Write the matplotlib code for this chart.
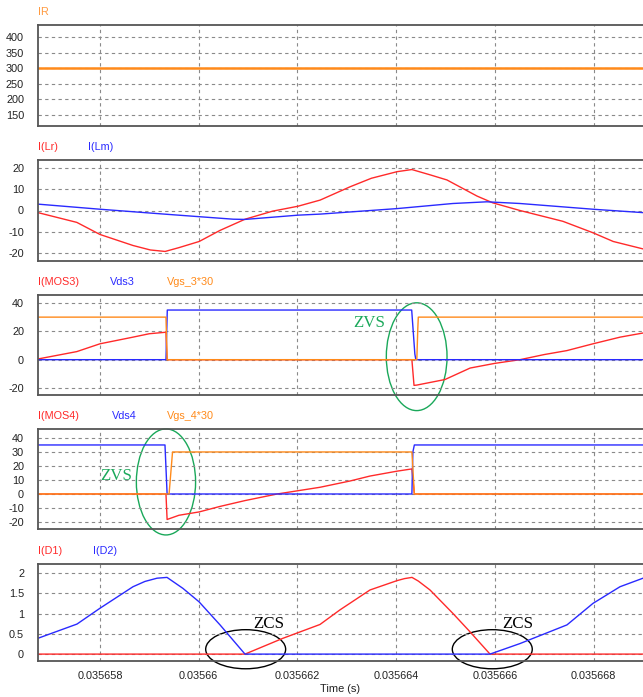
import matplotlib.pyplot as plt
from matplotlib.patches import Ellipse

# simulation time in microseconds
T_START, T_END = 35656.744, 35669.003
TICKS = [35658, 35660, 35662, 35664, 35666, 35668]
TICK_LABELS = ["0.035658", "0.03566", "0.035662", "0.035664", "0.035666", "0.035668"]

# IR
ir_t = [T_START, T_END]
ir = [300, 300]

# resonant and magnetizing inductor currents
lr_t = [T_START, 35657.53, 35658.00, 35658.67, 35659.02, 35659.32, 35659.60, 35660.01,
        35660.43, 35660.94, 35661.50, 35662.01, 35662.46, 35663.07, 35663.50, 35664.02,
        35664.32, 35664.69, 35665.03, 35665.64, 35665.96, 35666.51, 35667.38, 35667.99,
        35668.40, T_END]
i_lr = [-1.0, -5.6, -11.3, -16.5, -18.6, -19.3, -17.5, -14.6,
        -9.4, -4.1, -0.3, 2.0, 4.9, 11.2, 15.2, 18.3,
        19.3, 16.8, 14.4, 6.8, 3.6, 0.0, -5.1, -10.5,
        -14.6, -18.1]
lm_t = [T_START, 35658.00, 35659.36, 35660.70, 35660.94, 35662.01, 35662.46, 35664.02,
        35665.15, 35665.84, 35666.51, 35667.99, T_END]
i_lm = [3.0, 0.6, -1.8, -4.1, -4.2, -2.2, -1.7, 0.9,
        3.3, 4.1, 3.3, 0.6, -1.0]

# MOS3
mos3_t = [T_START, 35657.53, 35658.00, 35658.67, 35659.00, 35659.32, 35659.337, 35659.36,
          35664.32, 35664.363, 35664.42, 35664.99, 35665.50, 35666.00, 35666.51, 35667.00,
          35667.46, 35667.99, 35668.54, T_END]
i_mos3 = [0.5, 5.7, 11.2, 15.9, 18.3, 19.3, 19.3, 0.0,
          0.0, -18.1, -17.9, -14.0, -5.9, -2.6, 0.0, 3.6,
          6.4, 11.2, 15.9, 18.8]
vds3_t = [T_START, 35659.337, 35659.364, 35664.316, 35664.38, 35664.40, T_END]
vds3 = [0, 0, 35, 35, 4, 0, 0]
vgs3_t = [T_START, 35659.337, 35659.36, 35664.42, 35664.44, 35664.45, T_END]
vgs3 = [30, 30, 0, 0, 22, 30, 30]

# MOS4
mos4_t = [T_START, 35659.337, 35659.36, 35659.60, 35660.01, 35660.43, 35660.94, 35661.59,
          35662.46, 35663.07, 35663.47, 35664.02, 35664.32, 35664.37, T_END]
i_mos4 = [0.0, 0.0, -18.2, -15.2, -12.8, -8.9, -4.7, 0.0,
          4.8, 9.3, 12.8, 16.3, 17.9, 0.0, 0.0]
vds4_t = [T_START, 35659.317, 35659.36, 35664.32, 35664.34, 35664.37, T_END]
vds4 = [35, 35, 0, 0, 30, 35, 35]
vgs4_t = [T_START, 35659.40, 35659.47, 35664.32, 35664.37, T_END]
vgs4 = [0, 0, 30, 30, 0, 0]

# output diodes
d1_t = [T_START, 35660.938, 35661.708, 35662.458, 35662.863, 35663.471, 35664.018, 35664.170,
        35664.322, 35664.450, 35664.687, 35665.153, 35665.497, 35665.903, T_END]
i_d1 = [0, 0, 0.39, 0.73, 1.09, 1.58, 1.81, 1.86,
        1.89, 1.80, 1.58, 1.00, 0.55, 0, 0]
d2_t = [T_START, 35657.534, 35658.000, 35658.669, 35658.910, 35659.155, 35659.358, 35659.680,
        35660.006, 35660.432, 35660.938, 35665.903, 35666.511, 35667.463, 35667.990, 35668.537,
        T_END]
i_d2 = [0.39, 0.74, 1.13, 1.66, 1.79, 1.87, 1.89, 1.62,
        1.29, 0.72, 0, 0, 0.26, 0.72, 1.25, 1.66,
        1.87]

RED = "#ff2a2a"
BLUE = "#2a2aff"
ORANGE = "#ff8a1a"
GREEN = "#1aa85a"

plt.rcParams["font.family"] = ["Liberation Sans", "DejaVu Sans"]
plt.rcParams["axes.unicode_minus"] = False

fig = plt.figure(figsize=(6.43, 6.97), dpi=100)
left, width = 38 / 643, 1 - 38 / 643
rows = [(25, 126), (160, 261), (295, 395), (429, 529), (564, 661)]
axes = []
for top, bottom in rows:
    ax = fig.add_axes([left, 1 - bottom / 697, width, (bottom - top) / 697])
    axes.append(ax)

ylims = [(115, 438), (-23.8, 23.8), (-24.9, 45.6), (-25, 46.4), (-0.17, 2.22)]
yticks = [[150, 200, 250, 300, 350, 400], [-20, -10, 0, 10, 20], [-20, 0, 20, 40],
          [-20, -10, 0, 10, 20, 30, 40], [0, 0.5, 1, 1.5, 2]]
ytick_labels = [None, None, None, None, ["0", "0.5", "1", "1.5", "2"]]
for ax, yl, yt, ytl in zip(axes, ylims, yticks, ytick_labels):
    ax.set_xlim(T_START, T_END)
    ax.set_ylim(*yl)
    ax.set_yticks(yt)
    if ytl:
        ax.set_yticklabels(ytl)
    ax.set_xticks(TICKS)
    ax.grid(True, color="#8a8a8a", linestyle=(0, (3, 3)), linewidth=0.8)
    ax.tick_params(length=0, labelsize=7.8, labelcolor="#222222", pad=10)
    ax.tick_params(axis="x", pad=7)
    for side in ("left", "top", "bottom"):
        ax.spines[side].set_color("#555555")
        ax.spines[side].set_linewidth(1.3)
    ax.spines["right"].set_visible(False)
    if ax is not axes[-1]:
        ax.set_xticklabels([])


def legend(ax, items):
    for text, color, dx in items:
        ax.annotate(text, xy=(0, 1), xycoords="axes fraction", xytext=(dx, 13),
                    textcoords="offset pixels", va="center", ha="left",
                    fontsize=7.8, color=color)


ax1, ax2, ax3, ax4, ax5 = axes

ax1.plot(ir_t, ir, color=ORANGE, lw=1.8)
legend(ax1, [("IR", "#ff9a40", 0)])

ax2.plot(lr_t, i_lr, color=RED, lw=1.0)
ax2.plot(lm_t, i_lm, color=BLUE, lw=1.0)
legend(ax2, [("I(Lr)", RED, 0), ("I(Lm)", BLUE, 50)])

ax3.plot(mos3_t, i_mos3, color=RED, lw=1.0)
ax3.plot(vds3_t, vds3, color=BLUE, lw=1.0)
ax3.plot(vgs3_t, vgs3, color=ORANGE, lw=1.0)
legend(ax3, [("I(MOS3)", RED, 0), ("Vds3", BLUE, 72), ("Vgs_3*30", ORANGE, 129)])

ax4.plot(mos4_t, i_mos4, color=RED, lw=1.0)
ax4.plot(vds4_t, vds4, color=BLUE, lw=1.0)
ax4.plot(vgs4_t, vgs4, color=ORANGE, lw=1.0)
legend(ax4, [("I(MOS4)", RED, 0), ("Vds4", BLUE, 74), ("Vgs_4*30", ORANGE, 129)])

ax5.plot(d1_t, i_d1, color=RED, lw=1.0)
ax5.plot(d2_t, i_d2, color=BLUE, lw=1.0)
legend(ax5, [("I(D1)", RED, 0), ("I(D2)", BLUE, 55)])
ax5.set_xticklabels(TICK_LABELS)
ax5.set_xlabel("Time (s)", fontsize=7.9, color="#222222", labelpad=2)

# soft-switching markers
serif = ["Liberation Serif", "DejaVu Serif"]
ax3.add_patch(Ellipse((35664.417, 2.1), 1.23, 76, fill=False, ec=GREEN, lw=1.0, clip_on=False))
ax3.text(35663.45, 26.1, "ZVS", color=GREEN, fontsize=12.2, family=serif, ha="center", va="center")
ax4.add_patch(Ellipse((35659.337, 8.6), 1.20, 75.7, fill=False, ec=GREEN, lw=1.0, clip_on=False))
ax4.text(35658.32, 12.8, "ZVS", color=GREEN, fontsize=12.2, family=serif, ha="center", va="center")
for cx, tx in [(35660.952, 35661.42), (35665.949, 35666.46)]:
    ax5.add_patch(Ellipse((cx, 0.12), 1.62, 0.963, fill=False, ec="black", lw=1.0, clip_on=False))
    ax5.text(tx, 0.75, "ZCS", color="black", fontsize=12.2, family=serif, ha="center", va="center")

fig.savefig("out.png", dpi=100)
